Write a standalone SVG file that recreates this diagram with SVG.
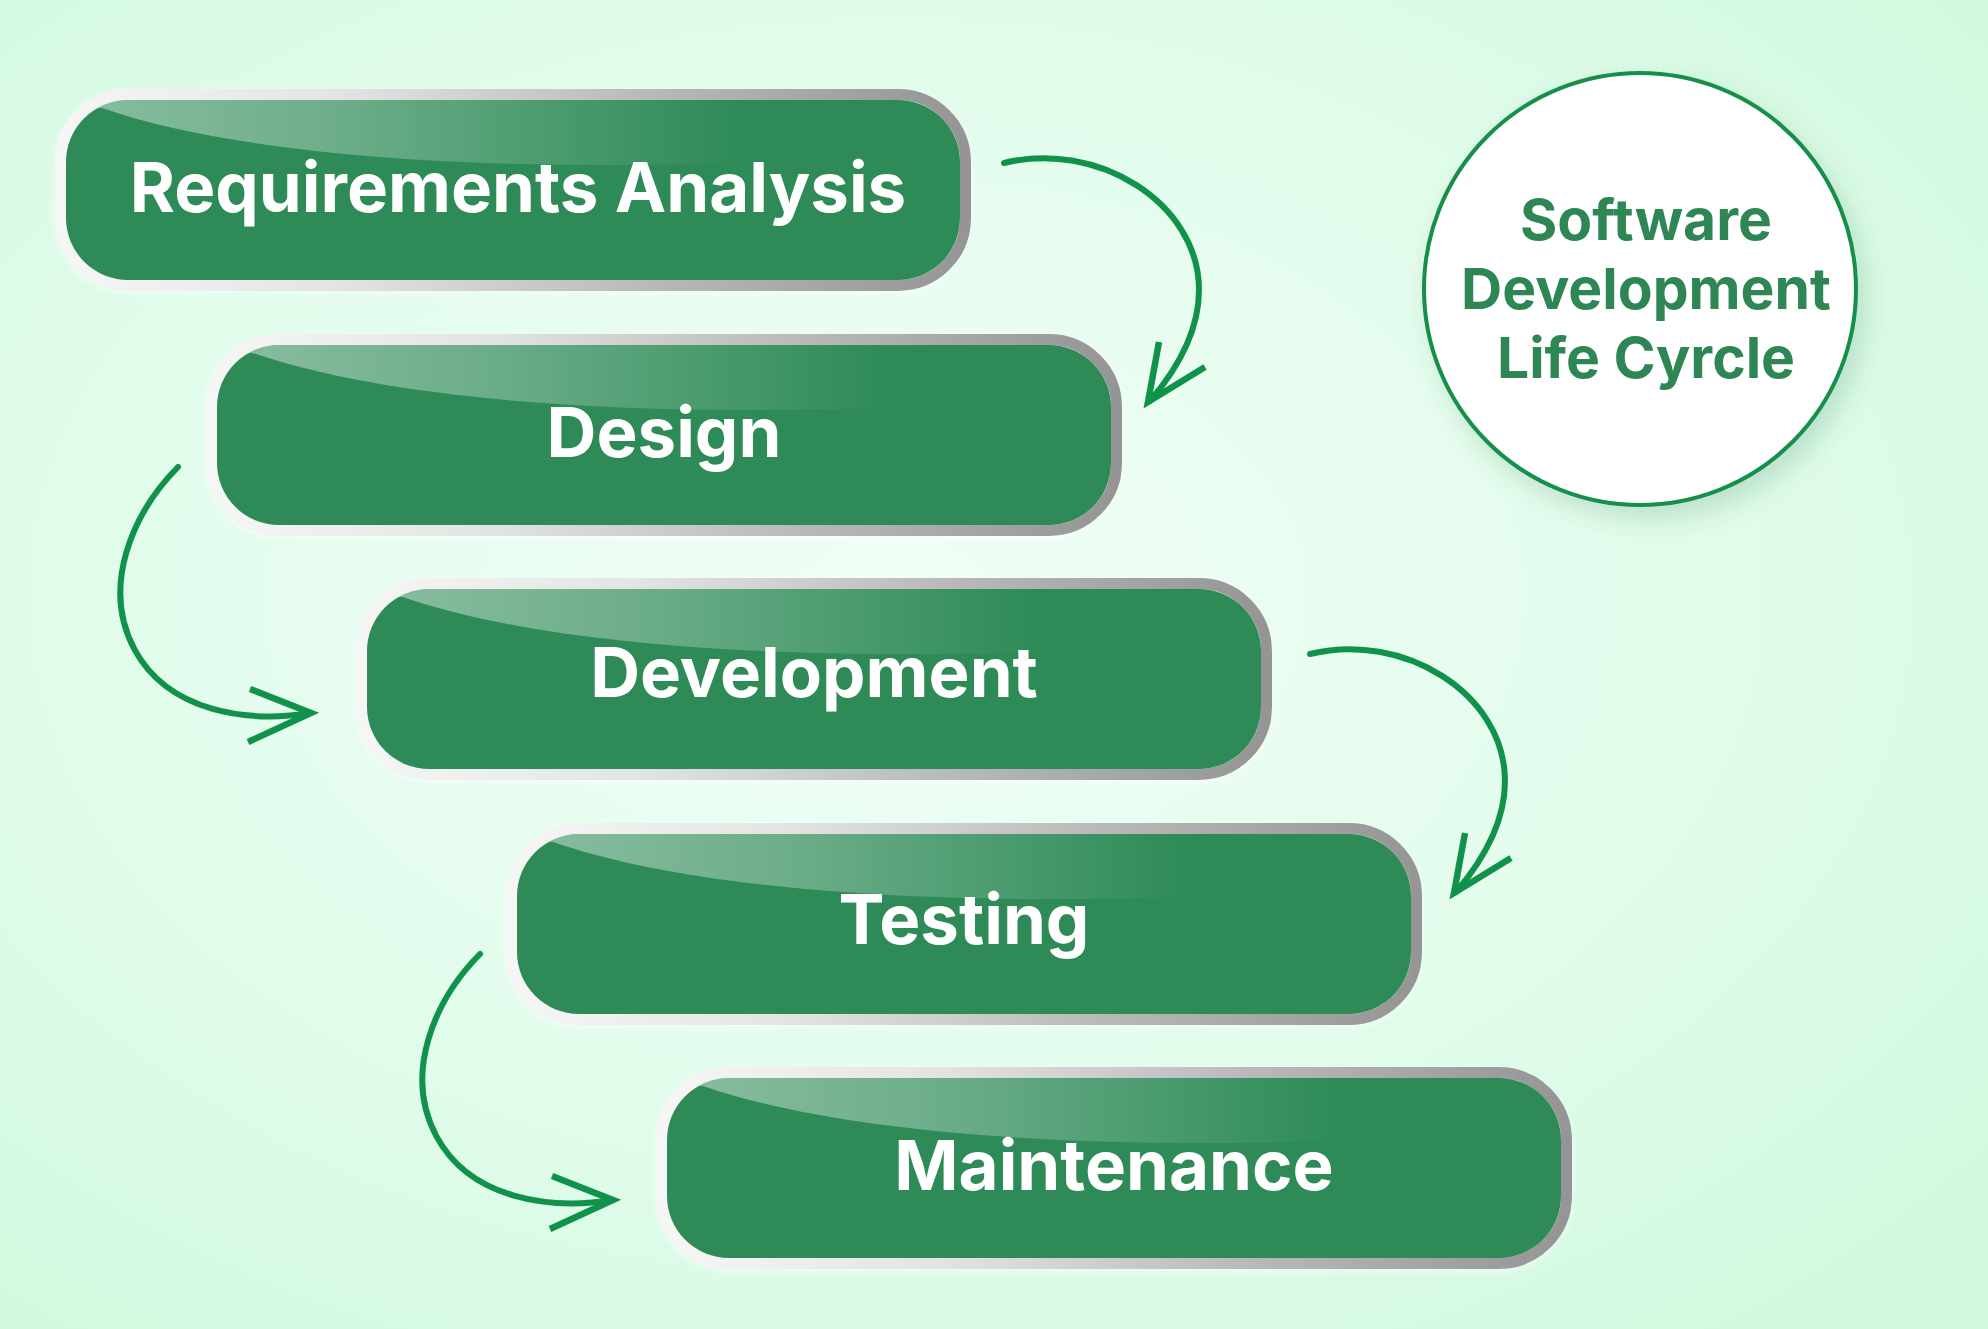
<svg xmlns="http://www.w3.org/2000/svg" width="1988" height="1329" viewBox="0 0 1988 1329">
  <defs>
    <radialGradient id="bg" cx="0.45" cy="0.45" r="0.7">
      <stop offset="0" stop-color="#f1fef6"/>
      <stop offset="0.55" stop-color="#e2fcec"/>
      <stop offset="1" stop-color="#d2f9e0"/>
    </radialGradient>
    <linearGradient id="border" x1="0" y1="0" x2="1" y2="0">
      <stop offset="0" stop-color="#f6f6f6"/>
      <stop offset="0.3" stop-color="#e4e4e4"/>
      <stop offset="0.65" stop-color="#b9b9b9"/>
      <stop offset="1" stop-color="#959595"/>
    </linearGradient>
    <linearGradient id="gloss" x1="0" y1="0" x2="894" y2="0" gradientUnits="userSpaceOnUse">
      <stop offset="0" stop-color="#ffffff" stop-opacity="0.44"/>
      <stop offset="0.3" stop-color="#ffffff" stop-opacity="0.3"/>
      <stop offset="0.75" stop-color="#ffffff" stop-opacity="0"/>
    </linearGradient>
    <clipPath id="pill">
      <rect x="0" y="0" width="894" height="180" rx="62"/>
    </clipPath>
    <filter id="shadow" x="-20%" y="-20%" width="150%" height="150%">
      <feDropShadow dx="8" dy="12" stdDeviation="12" flood-color="#1f5a36" flood-opacity="0.16"/>
    </filter>
    <filter id="boxglow" x="-5%" y="-20%" width="110%" height="140%">
      <feDropShadow dx="0" dy="2" stdDeviation="3" flood-color="#ffffff" flood-opacity="0.6"/>
    </filter>
  </defs>
  <style>
    .frame { fill: none; stroke: url(#border); stroke-width: 11; }
    .fill { fill: #2e8b57; }
    .gl { fill: url(#gloss); }
    .lbl { font-family: Inter, "Liberation Sans", sans-serif; font-weight: 700; font-size: 69px; fill: #ffffff; text-anchor: middle; }
    .ttl { font-family: Inter, "Liberation Sans", sans-serif; font-weight: 700; font-size: 57px; fill: #2e8655; text-anchor: middle; }
    .arc { fill: none; stroke: #11924b; stroke-width: 6; stroke-linecap: round; }
    .head { fill: none; stroke: #11924b; stroke-width: 6.5; stroke-linecap: butt; stroke-linejoin: miter; stroke-miterlimit: 10; }
  </style>

  <rect x="0" y="0" width="1988" height="1329" fill="url(#bg)"/>

  <g id="node-requirements" transform="translate(66,100)">
    <rect class="frame" x="-5.5" y="-5.5" width="905" height="191" rx="67.5" filter="url(#boxglow)"/>
    <rect class="fill" x="0" y="0" width="894" height="180" rx="62"/>
    <path class="gl" clip-path="url(#pill)" d="M-10,-10 L-10,6 L36,8 C200,65 520,80 894,50 L894,-10 Z"/>
    <text class="lbl" x="452" y="112">Requirements Analysis</text>
  </g>

  <g id="node-design" transform="translate(217,345)">
    <rect class="frame" x="-5.5" y="-5.5" width="905" height="191" rx="67.5" filter="url(#boxglow)"/>
    <rect class="fill" x="0" y="0" width="894" height="180" rx="62"/>
    <path class="gl" clip-path="url(#pill)" d="M-10,-10 L-10,6 L36,8 C200,65 520,80 894,50 L894,-10 Z"/>
    <text class="lbl" x="447" y="112">Design</text>
  </g>

  <g id="node-development" transform="translate(367,589)">
    <rect class="frame" x="-5.5" y="-5.5" width="905" height="191" rx="67.5" filter="url(#boxglow)"/>
    <rect class="fill" x="0" y="0" width="894" height="180" rx="62"/>
    <path class="gl" clip-path="url(#pill)" d="M-10,-10 L-10,6 L36,8 C200,65 520,80 894,50 L894,-10 Z"/>
    <text class="lbl" x="447" y="108">Development</text>
  </g>

  <g id="node-testing" transform="translate(517,834)">
    <rect class="frame" x="-5.5" y="-5.5" width="905" height="191" rx="67.5" filter="url(#boxglow)"/>
    <rect class="fill" x="0" y="0" width="894" height="180" rx="62"/>
    <path class="gl" clip-path="url(#pill)" d="M-10,-10 L-10,6 L36,8 C200,65 520,80 894,50 L894,-10 Z"/>
    <text class="lbl" x="447" y="110">Testing</text>
  </g>

  <g id="node-maintenance" transform="translate(667,1078)">
    <rect class="frame" x="-5.5" y="-5.5" width="905" height="191" rx="67.5" filter="url(#boxglow)"/>
    <rect class="fill" x="0" y="0" width="894" height="180" rx="62"/>
    <path class="gl" clip-path="url(#pill)" d="M-10,-10 L-10,6 L36,8 C200,65 520,80 894,50 L894,-10 Z"/>
    <text class="lbl" x="447" y="112">Maintenance</text>
  </g>

  <g id="node-title">
    <circle cx="1640" cy="289" r="216" fill="#ffffff" stroke="#178f4c" stroke-width="4" filter="url(#shadow)"/>
    <text class="ttl" x="1646" y="240">Software</text>
    <text class="ttl" x="1646" y="309">Development</text>
    <text class="ttl" x="1646" y="378">Life Cyrcle</text>
  </g>

  <g id="connectors">
    <g id="arrow-req-design">
      <path class="arc" d="M1004,163 C1096,140 1199,202 1199,290 C1199,330 1179,367 1150,401"/>
      <polyline class="head" points="1159,342 1148,402 1205,367"/>
    </g>
    <g id="arrow-design-dev">
      <path class="arc" d="M178,467 C132.5,513 100.6,586.8 134.6,649.6 C168.6,712.4 248,723 311,713"/>
      <polyline class="head" points="250,689 311,713 248,742"/>
    </g>
    <g id="arrow-dev-test" transform="translate(306,491)">
      <path class="arc" d="M1004,163 C1096,140 1199,202 1199,290 C1199,330 1179,367 1150,401"/>
      <polyline class="head" points="1159,342 1148,402 1205,367"/>
    </g>
    <g id="arrow-test-maint" transform="translate(302,487)">
      <path class="arc" d="M178,467 C132.5,513 100.6,586.8 134.6,649.6 C168.6,712.4 248,723 311,713"/>
      <polyline class="head" points="250,689 311,713 248,742"/>
    </g>
  </g>
</svg>
